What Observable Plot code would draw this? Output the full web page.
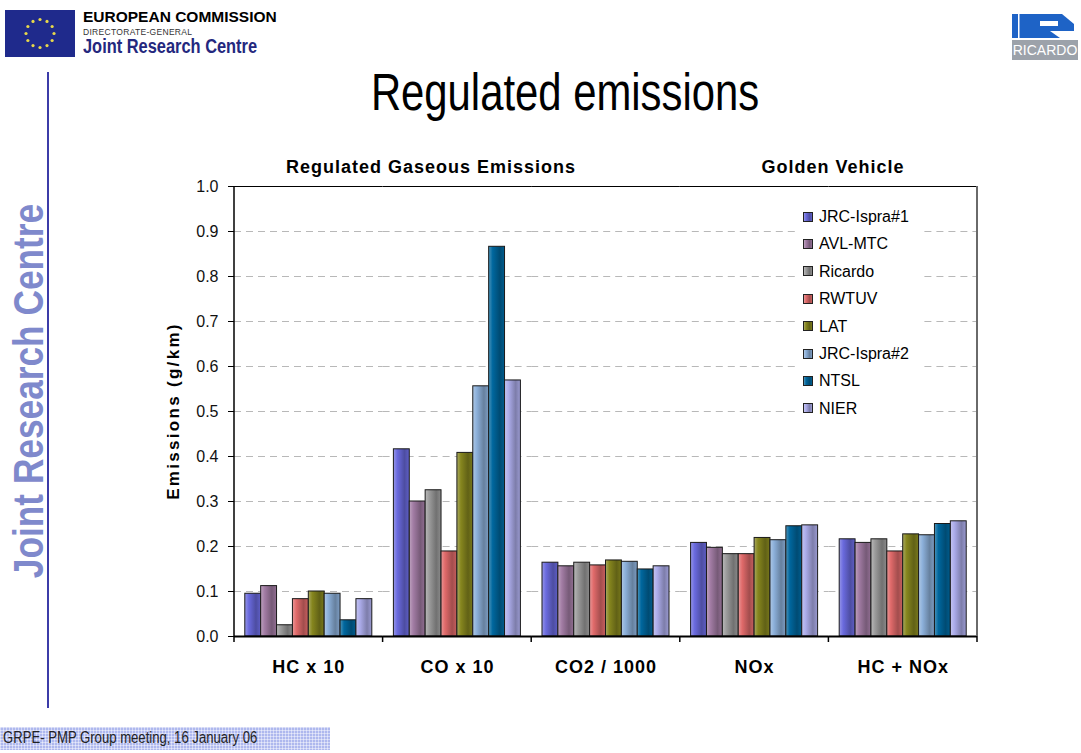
<!DOCTYPE html>
<html><head><meta charset="utf-8">
<script src="https://cdn.jsdelivr.net/npm/d3@7"></script>
<script src="https://cdn.jsdelivr.net/npm/@observablehq/plot@0.6"></script>
<style>
body{margin:0;background:#fff;}
#page{position:relative;width:1081px;height:753px;overflow:hidden;background:#fff;font-family:"Liberation Sans",Arial,sans-serif;color:#000;}
.abs{position:absolute;white-space:nowrap;}
.rot{transform:translate(-50%,-50%) rotate(-90deg);}
.rotn{transform:translate(-50%,-50%) rotate(-90deg) scaleX(0.82);}
.ctr{transform:translate(-50%,-50%);}
.ctrn{transform:translate(-50%,-50%) scaleX(0.82);}
.nl{transform:scaleX(0.82);transform-origin:0 50%;}
#chart{position:absolute;left:150px;top:140px;}
#chart g[aria-label="fx-axis tick label"]{font-weight:bold;font-size:18px;letter-spacing:1px;}
#chart g[aria-label="y-axis tick label"]{font-size:16px;}
#legend{position:absolute;left:795px;top:202px;width:127px;height:220px;background:#fff;}
#legend .row{height:27.4px;line-height:27.4px;font-size:16px;display:flex;align-items:center;}
#legend .sw{width:8px;height:8px;border:1px solid #222;margin-left:8px;margin-right:6px;}
#footer{position:absolute;left:0;top:727px;width:330px;height:23px;background-color:#aeb8ee;
 background-image:linear-gradient(90deg,rgba(255,255,255,.45) 1px,transparent 1px),linear-gradient(rgba(255,255,255,.45) 1px,transparent 1px);
 background-size:3px 3px;}
</style></head>
<body><div id="page">
  <!-- EU logo -->
  <svg class="abs" style="left:5px;top:10px" width="70" height="47" id="flag"></svg>
  <div class="abs" style="left:83px;top:8px;font-weight:bold;font-size:15.5px;">EUROPEAN COMMISSION</div>
  <div class="abs" style="left:83px;top:27px;font-size:8.5px;color:#333;letter-spacing:0.3px;">DIRECTORATE-GENERAL</div>
  <div class="abs nl" style="left:83px;top:35px;font-weight:bold;font-size:20px;color:#24287e;">Joint Research Centre</div>
  <!-- Ricardo logo -->
  <svg class="abs" style="left:1008px;top:12px" width="72" height="50">
    <rect x="4" y="2" width="62" height="24" fill="#1e63c6"/>
    <rect x="10" y="2" width="1.5" height="24" fill="#fff"/>
    <rect x="32" y="9" width="18" height="5" fill="#fff"/>
    <polygon points="42,19 66,19 66,26 52,26" fill="#fff"/>
    <polygon points="54,2 66,2 66,12" fill="#fff"/>
    <rect x="4" y="28" width="66" height="20" fill="#9ca2aa"/>
    <text x="37" y="43" text-anchor="middle" fill="#fff" font-size="14" font-family="Liberation Sans, sans-serif">RICARDO</text>
  </svg>
  <div class="abs ctrn" style="left:565px;top:92px;font-size:51px;">Regulated emissions</div>
  <div class="abs" style="left:47px;top:72px;width:2px;height:636px;background:#3c3ca8;"></div>
  <div class="abs rotn" style="left:28px;top:391px;font-size:43px;font-weight:bold;color:#7f89cc;">Joint Research Centre</div>
  <div class="abs ctr" style="left:431px;top:167px;font-size:18px;font-weight:bold;letter-spacing:1px;">Regulated Gaseous Emissions</div>
  <div class="abs ctr" style="left:833px;top:167px;font-size:18px;font-weight:bold;letter-spacing:1px;">Golden Vehicle</div>
  <div class="abs rot" style="left:174px;top:411px;font-size:17px;font-weight:bold;letter-spacing:2.3px;">Emissions (g/km)</div>
  <div id="chart"></div>
  <div id="legend"></div>
  <div id="footer"><div class="abs nl" style="left:3px;top:2px;font-size:16px;color:#222;">GRPE- PMP Group meeting, 16 January 06</div></div>
</div>
<script>
// ---- data ----
const categories = ["HC x 10", "CO x 10", "CO2 / 1000", "NOx", "HC + NOx"];
const labs = ["JRC-Ispra#1", "AVL-MTC", "Ricardo", "RWTUV", "LAT", "JRC-Ispra#2", "NTSL", "NIER"];
const jrcIspra1 = [0.095, 0.416, 0.164, 0.208, 0.216];
const avlMtc    = [0.112, 0.300, 0.156, 0.197, 0.208];
const ricardo   = [0.025, 0.325, 0.164, 0.183, 0.216];
const rwtuv     = [0.083, 0.189, 0.158, 0.183, 0.189];
const lat       = [0.100, 0.408, 0.169, 0.219, 0.227];
const jrcIspra2 = [0.095, 0.556, 0.166, 0.214, 0.225];
const ntsl      = [0.036, 0.866, 0.149, 0.245, 0.250];
const nier      = [0.083, 0.569, 0.156, 0.247, 0.256];
const seriesValues = [jrcIspra1, avlMtc, ricardo, rwtuv, lat, jrcIspra2, ntsl, nier];
const colors = ["#6a6ade", "#a27ca4", "#9c9c9c", "#e06a6a", "#86861e", "#8cb0da", "#00679e", "#acacea"];
const yTicks = [0, 0.1, 0.2, 0.3, 0.4, 0.5, 0.6, 0.7, 0.8, 0.9, 1.0];
const yTickLabels = ["0.0", "0.1", "0.2", "0.3", "0.4", "0.5", "0.6", "0.7", "0.8", "0.9", "1.0"];

const rows = labs.flatMap((lab, i) => categories.map((c, j) => ({category: c, lab, value: seriesValues[i][j]})));

function stops(c) {
  return [
    [0, d3.interpolateRgb(c, "#ffffff")(0.3)],
    [0.25, c],
    [0.7, d3.color(c).darker(0.9).formatHex()],
    [1, d3.color(c).darker(0.3).formatHex()]
  ];
}

// EU flag
(function(){
  const f = d3.select("#flag");
  f.append("rect").attr("width", 70).attr("height", 47).attr("fill", "#1f2a8c");
  d3.range(12).forEach(k => {
    const a = k / 12 * 2 * Math.PI;
    f.append("circle").attr("cx", 35 + 14 * Math.cos(a)).attr("cy", 23.5 + 14 * Math.sin(a)).attr("r", 1.6).attr("fill", "#e8d84a");
  });
})();

const chart = Plot.plot({
  width: 850, height: 550,
  marginLeft: 84, marginRight: 23, marginTop: 46, marginBottom: 54,
  style: {background: "transparent", fontFamily: '"Liberation Sans", Arial, sans-serif', fontSize: "16px", color: "#000", overflow: "visible"},
  fx: {domain: categories, padding: 0, round: false, label: null},
  x: {domain: labs, paddingInner: 0, paddingOuter: 0.68, round: false, axis: null},
  y: {domain: [0, 1], label: null, axis: null},
  color: {type: "ordinal", domain: labs, range: labs.map((d, i) => `url(#grad${i})`)},
  marks: [
    Plot.gridY({ticks: yTicks.slice(1, -1), stroke: "#b8b8b8", strokeOpacity: 1, strokeDasharray: "7,5", strokeWidth: 1}),
    Plot.barY(rows, {fx: "category", x: "lab", y: "value", fill: "lab", stroke: "#1a1a1a", strokeWidth: 1}),
    Plot.ruleY([1], {stroke: "#000", strokeWidth: 1}),
    Plot.ruleY([0], {stroke: "#000", strokeWidth: 2}),
    Plot.axisY({ticks: yTicks, tickSize: 6, tickPadding: 10, tickFormat: d => yTickLabels[yTicks.indexOf(d)], fontSize: 16, label: null, stroke: "#000", fill: "#111"}),
    Plot.axisFx({anchor: "bottom", tickSize: 0, tickPadding: 24, fontSize: 18, fontWeight: "bold", label: null, fill: "#000"})
  ]
});

const svg = d3.select(chart);
const defs = svg.insert("defs", ":first-child");
colors.forEach((c, i) => {
  const g = defs.append("linearGradient").attr("id", "grad" + i).attr("x1", 0).attr("x2", 1).attr("y1", 0).attr("y2", 0);
  stops(c).forEach(([o, col]) => g.append("stop").attr("offset", o).attr("stop-color", col));
});

// frame and group ticks from the library's scales
const fx = chart.scale("fx"), y = chart.scale("y");
const bw = fx.bandwidth;
const yb = y.apply(0), yt = y.apply(1);
const edges = categories.map(c => fx.apply(c)).concat([fx.apply(categories[categories.length - 1]) + bw]);
const fr = svg.append("g");
edges.forEach(e => fr.append("line").attr("x1", e).attr("x2", e).attr("y1", yb).attr("y2", yb + 6).attr("stroke", "#000").attr("stroke-width", 1.5));
fr.append("line").attr("x1", edges[0]).attr("x2", edges[0]).attr("y1", yt).attr("y2", yb).attr("stroke", "#000").attr("stroke-width", 1.5);
fr.append("line").attr("x1", edges[edges.length - 1]).attr("x2", edges[edges.length - 1]).attr("y1", yt).attr("y2", yb).attr("stroke", "#6a6a6a").attr("stroke-width", 2);

document.getElementById("chart").appendChild(chart);

// legend
const lg = d3.select("#legend").style("padding-top", "1px");
labs.forEach((lab, i) => {
  const r = lg.append("div").attr("class", "row");
  const st = stops(colors[i]).map(([o, col]) => `${col} ${o * 100}%`).join(",");
  r.append("div").attr("class", "sw").style("background", `linear-gradient(90deg,${st})`);
  r.append("span").text(lab);
});
</script>
</body></html>
